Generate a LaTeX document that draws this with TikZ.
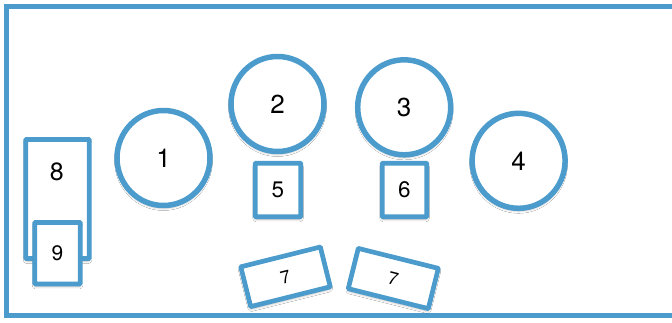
\documentclass[tikz,border=0pt]{standalone}
\usepackage{fontspec}
\setmainfont{TeX Gyre Heros}
\usetikzlibrary{shapes.geometric,shadows.blur}
\definecolor{kblue}{HTML}{4B9CCC}
\tikzset{
  shd/.style={blur shadow={shadow xshift=0pt, shadow yshift=-2.5pt, shadow blur steps=6, shadow opacity=28, shadow blur radius=2.5pt}},
  seat/.style={ellipse, draw=kblue, line width=5.5pt, fill=white, shd, minimum width=93pt, minimum height=95pt, inner sep=0pt, font=\fontsize{26}{26}\selectfont},
  box/.style={rectangle, draw=kblue, line width=4.7pt, fill=white, shd, inner sep=0pt, rounded corners=0.8pt},
  lbl/.style={inner sep=0pt, font=\fontsize{#1}{#1}\selectfont},
  frame/.style={draw=kblue, line width=5pt}
}
\begin{document}
\begin{tikzpicture}[x=1pt,y=-1pt]
\useasboundingbox (0,0) rectangle (672,322);
\clip (0,0) rectangle (672,322);
\fill[white] (0,0) rectangle (672,322);
\draw[frame] (6.5,6.5) -- (690,6.5) -- (690,315.5) -- (6.5,315.5) -- cycle;
% round seats
\node[seat] (s1) at (163.5,158) {1};
\node[seat] (s2) at (277.5,104) {2};
\node[seat] (s3) at (404.2,107.3) {3};
\node[seat] (s4) at (518.6,160.8) {4};
% left boxes
\node[box, minimum width=63.5pt, minimum height=119pt] (b8) at (57.5,199) {};
\node[lbl=25] (t8) at (56.8,172) {8};
\node[box, minimum width=45.5pt, minimum height=61.5pt, font=\fontsize{21}{21}\selectfont] (b9) at (57.5,253.2) {9};
% small boxes
\node[box, minimum width=45.5pt, minimum height=53.5pt, font=\fontsize{22.5}{22.5}\selectfont] (b5) at (278,190) {5};
\node[box, minimum width=44.5pt, minimum height=53.5pt, font=\fontsize{22.5}{22.5}\selectfont] (b6) at (404.5,190) {6};
% tilted boxes
\node[box, minimum width=82pt, minimum height=41pt, rotate=14, font=\fontsize{18}{18}\selectfont] (b7a) at (285.5,276.8) {7};
\node[box, minimum width=82.5pt, minimum height=41.5pt, rotate=-14, font=\fontsize{18}{18}\selectfont] (b7b) at (393.3,278.5) {7};
\end{tikzpicture}
\end{document}
